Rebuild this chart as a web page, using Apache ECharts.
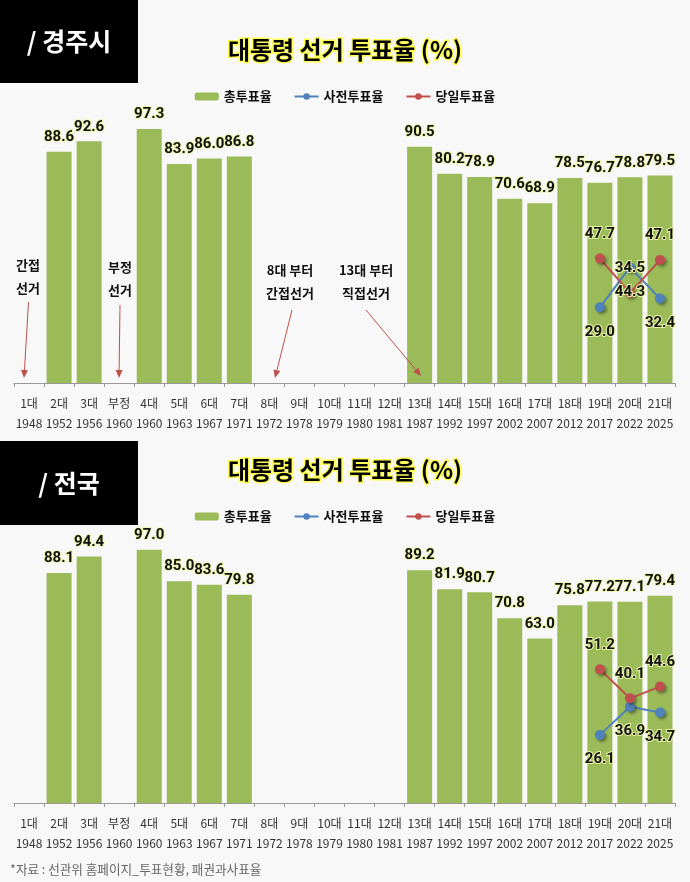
<!DOCTYPE html>
<html>
<head>
<meta charset="utf-8">
<script src="https://cdn.jsdelivr.net/npm/echarts@6/dist/echarts.min.js"></script>
<style>
  html, body { margin: 0; padding: 0; background: #f8f8f8; }
  #chart { width: 690px; height: 882px; }
</style>
</head>
<body>
<div id="chart"></div>
<script>
// 축 라벨
const categories = ['1대', '2대', '3대', '부정', '4대', '5대', '6대', '7대', '8대', '9대', '10대', '11대', '12대', '13대', '14대', '15대', '16대', '17대', '18대', '19대', '20대', '21대'];
const years = ['1948', '1952', '1956', '1960', '1960', '1963', '1967', '1971', '1972', '1978', '1979', '1980', '1981', '1987', '1992', '1997', '2002', '2007', '2012', '2017', '2022', '2025'];

// 경주시 (그림에서 읽은 점 위치 기준)
const totalGJ = [null, 88.6, 92.6, null, 97.3, 83.9, 86.0, 86.8, null, null, null, null, null, 90.5, 80.2, 78.9, 70.6, 68.9, 78.5, 76.7, 78.8, 79.5];
const earlyGJ = [null, null, null, null, null, null, null, null, null, null, null, null, null, null, null, null, null, null, null, 29.0, 44.3, 32.4];
const dayGJ = [null, null, null, null, null, null, null, null, null, null, null, null, null, null, null, null, null, null, null, 47.7, 34.5, 47.1];

// 전국
const totalKR = [null, 88.1, 94.4, null, 97.0, 85.0, 83.6, 79.8, null, null, null, null, null, 89.2, 81.9, 80.7, 70.8, 63.0, 75.8, 77.2, 77.1, 79.4];
const earlyKR = [null, null, null, null, null, null, null, null, null, null, null, null, null, null, null, null, null, null, null, 26.1, 36.9, 34.7];
const dayKR = [null, null, null, null, null, null, null, null, null, null, null, null, null, null, null, null, null, null, null, 51.2, 40.1, 44.6];

// 라벨 위치 (19대, 20대, 21대)
const earlyPosGJ = ['bottom', 'bottom', 'bottom'];
const dayPosGJ = ['top', 'top', 'top'];
const earlyPosKR = ['bottom', 'bottom', 'bottom'];
const dayPosKR = ['top', 'top', 'top'];

const GREEN = '#9bbb59', BLUE = '#4f81bd', RED = '#c0504d';
const KFONT = '"Noto Sans CJK KR", sans-serif';

const valLabel = {
  show: true,
  distance: 7,
  fontFamily: 'Roboto, sans-serif',
  fontWeight: 'bold',
  fontSize: 15,
  color: '#111',
  textBorderColor: 'rgba(236,245,170,0.95)',
  textBorderWidth: 2,
  formatter: p => Number(p.value).toFixed(1)
};

function lineData(arr, pos) {
  let k = 0;
  return arr.map(v => {
    if (v == null) return null;
    return { value: v, label: { position: pos[k++] } };
  });
}

function panelSeries(gi, total, early, day, ePos, dPos) {
  return [
    {
      name: '총투표율', type: 'bar', xAxisIndex: gi, yAxisIndex: gi,
      data: total, barWidth: 25,
      itemStyle: { color: GREEN },
      label: Object.assign({ position: 'top' }, valLabel)
    },
    {
      name: '사전투표율', type: 'line', xAxisIndex: gi, yAxisIndex: gi,
      data: lineData(early, ePos), symbol: 'circle', symbolSize: 10, z: 5,
      lineStyle: { color: BLUE, width: 2 },
      itemStyle: { color: BLUE, shadowColor: 'rgba(0,0,0,0.4)', shadowBlur: 3, shadowOffsetX: 2, shadowOffsetY: 2 },
      label: Object.assign({}, valLabel, { distance: 12 })
    },
    {
      name: '당일투표율', type: 'line', xAxisIndex: gi, yAxisIndex: gi,
      data: lineData(day, dPos), symbol: 'circle', symbolSize: 10, z: 5,
      lineStyle: { color: RED, width: 2 },
      itemStyle: { color: RED, shadowColor: 'rgba(0,0,0,0.4)', shadowBlur: 3, shadowOffsetX: 2, shadowOffsetY: 2 },
      label: Object.assign({}, valLabel, { distance: 12 })
    }
  ];
}

function xAxisFor(gi) {
  return {
    type: 'category', gridIndex: gi,
    data: categories.map((c, i) => c + '\n' + years[i]),
    axisLine: { lineStyle: { color: '#999', width: 1 } },
    axisTick: { show: true, length: 4, lineStyle: { color: '#999' } },
    axisLabel: { color: '#333', fontSize: 12, lineHeight: 20, margin: 10, interval: 0, fontFamily: KFONT }
  };
}

function yAxisFor(gi) {
  return { type: 'value', gridIndex: gi, min: 0, max: 100, show: false, splitLine: { show: false } };
}

function legendAt(top) {
  return {
    top: top, left: 'center', itemGap: 22, itemWidth: 24, itemHeight: 8,
    data: ['총투표율', '사전투표율', '당일투표율'],
    textStyle: { fontFamily: KFONT, fontWeight: 'bold', fontSize: 13, color: '#111' }
  };
}

function titleText(y) {
  return {
    type: 'text', x: 345, y: y, z: 10,
    style: {
      text: '대통령 선거 투표율 (%)', fontFamily: KFONT, fontWeight: 'bold', fontSize: 24,
      fill: '#000', stroke: '#ffff55', lineWidth: 3,
      shadowColor: '#ffff00', shadowBlur: 4,
      align: 'center', verticalAlign: 'middle'
    }
  };
}

function blackBox(y, h, label) {
  return {
    type: 'group', left: 0, top: y, z: 10,
    children: [
      { type: 'rect', shape: { x: 0, y: 0, width: 138, height: h }, style: { fill: '#000' } },
      { type: 'text', x: 69, y: h / 2, style: { text: label, fill: '#fff', fontFamily: KFONT, fontWeight: 'bold', fontSize: 25, align: 'center', verticalAlign: 'middle' } }
    ]
  };
}

function note(x, y, lines) {
  return lines.map((t, i) => ({
    type: 'text', x: x, y: y + i * 23, z: 10,
    style: { text: t, fill: '#111', fontFamily: KFONT, fontWeight: 'bold', fontSize: 13, align: 'center', verticalAlign: 'middle' }
  }));
}

function arrow(x1, y1, x2, y2) {
  const a = Math.atan2(y2 - y1, x2 - x1), L = 8, W = 3.5;
  const bx = x2 - L * Math.cos(a), by = y2 - L * Math.sin(a);
  const px = -Math.sin(a) * W, py = Math.cos(a) * W;
  return [
    { type: 'line', z: 10, shape: { x1: x1, y1: y1, x2: bx, y2: by }, style: { stroke: RED, lineWidth: 1 } },
    { type: 'polygon', z: 10, shape: { points: [[x2, y2], [bx + px, by + py], [bx - px, by - py]] }, style: { fill: RED } }
  ];
}

const graphics = [].concat(
  [blackBox(0, 83, '/ 경주시'), blackBox(441, 84, '/ 전국'), titleText(50), titleText(470)],
  note(28, 265, ['간접', '선거']), arrow(28.5, 302, 24, 378),
  note(120, 267, ['부정', '선거']), arrow(120, 305, 119, 378),
  note(290, 270, ['8대 부터', '간접선거']), arrow(292, 310, 275, 378),
  note(366, 270, ['13대 부터', '직접선거']), arrow(366, 310, 421, 376),
  [{
    type: 'text', left: 10, top: 863, z: 10,
    style: { text: '*자료 : 선관위 홈페이지_투표현황, 패권과사표율', fill: '#666', fontFamily: KFONT, fontSize: 12.6 }
  }]
);

const myChart = echarts.init(document.getElementById('chart'));
myChart.setOption({
  backgroundColor: '#f8f8f8',
  animation: false,
  legend: [legendAt(85), legendAt(505)],
  grid: [
    { left: 14, right: 15, top: 122, bottom: 499 },
    { left: 14, right: 15, top: 542, bottom: 79 }
  ],
  xAxis: [xAxisFor(0), xAxisFor(1)],
  yAxis: [yAxisFor(0), yAxisFor(1)],
  series: [].concat(
    panelSeries(0, totalGJ, earlyGJ, dayGJ, earlyPosGJ, dayPosGJ),
    panelSeries(1, totalKR, earlyKR, dayKR, earlyPosKR, dayPosKR)
  ),
  graphic: graphics
});
</script>
</body>
</html>
